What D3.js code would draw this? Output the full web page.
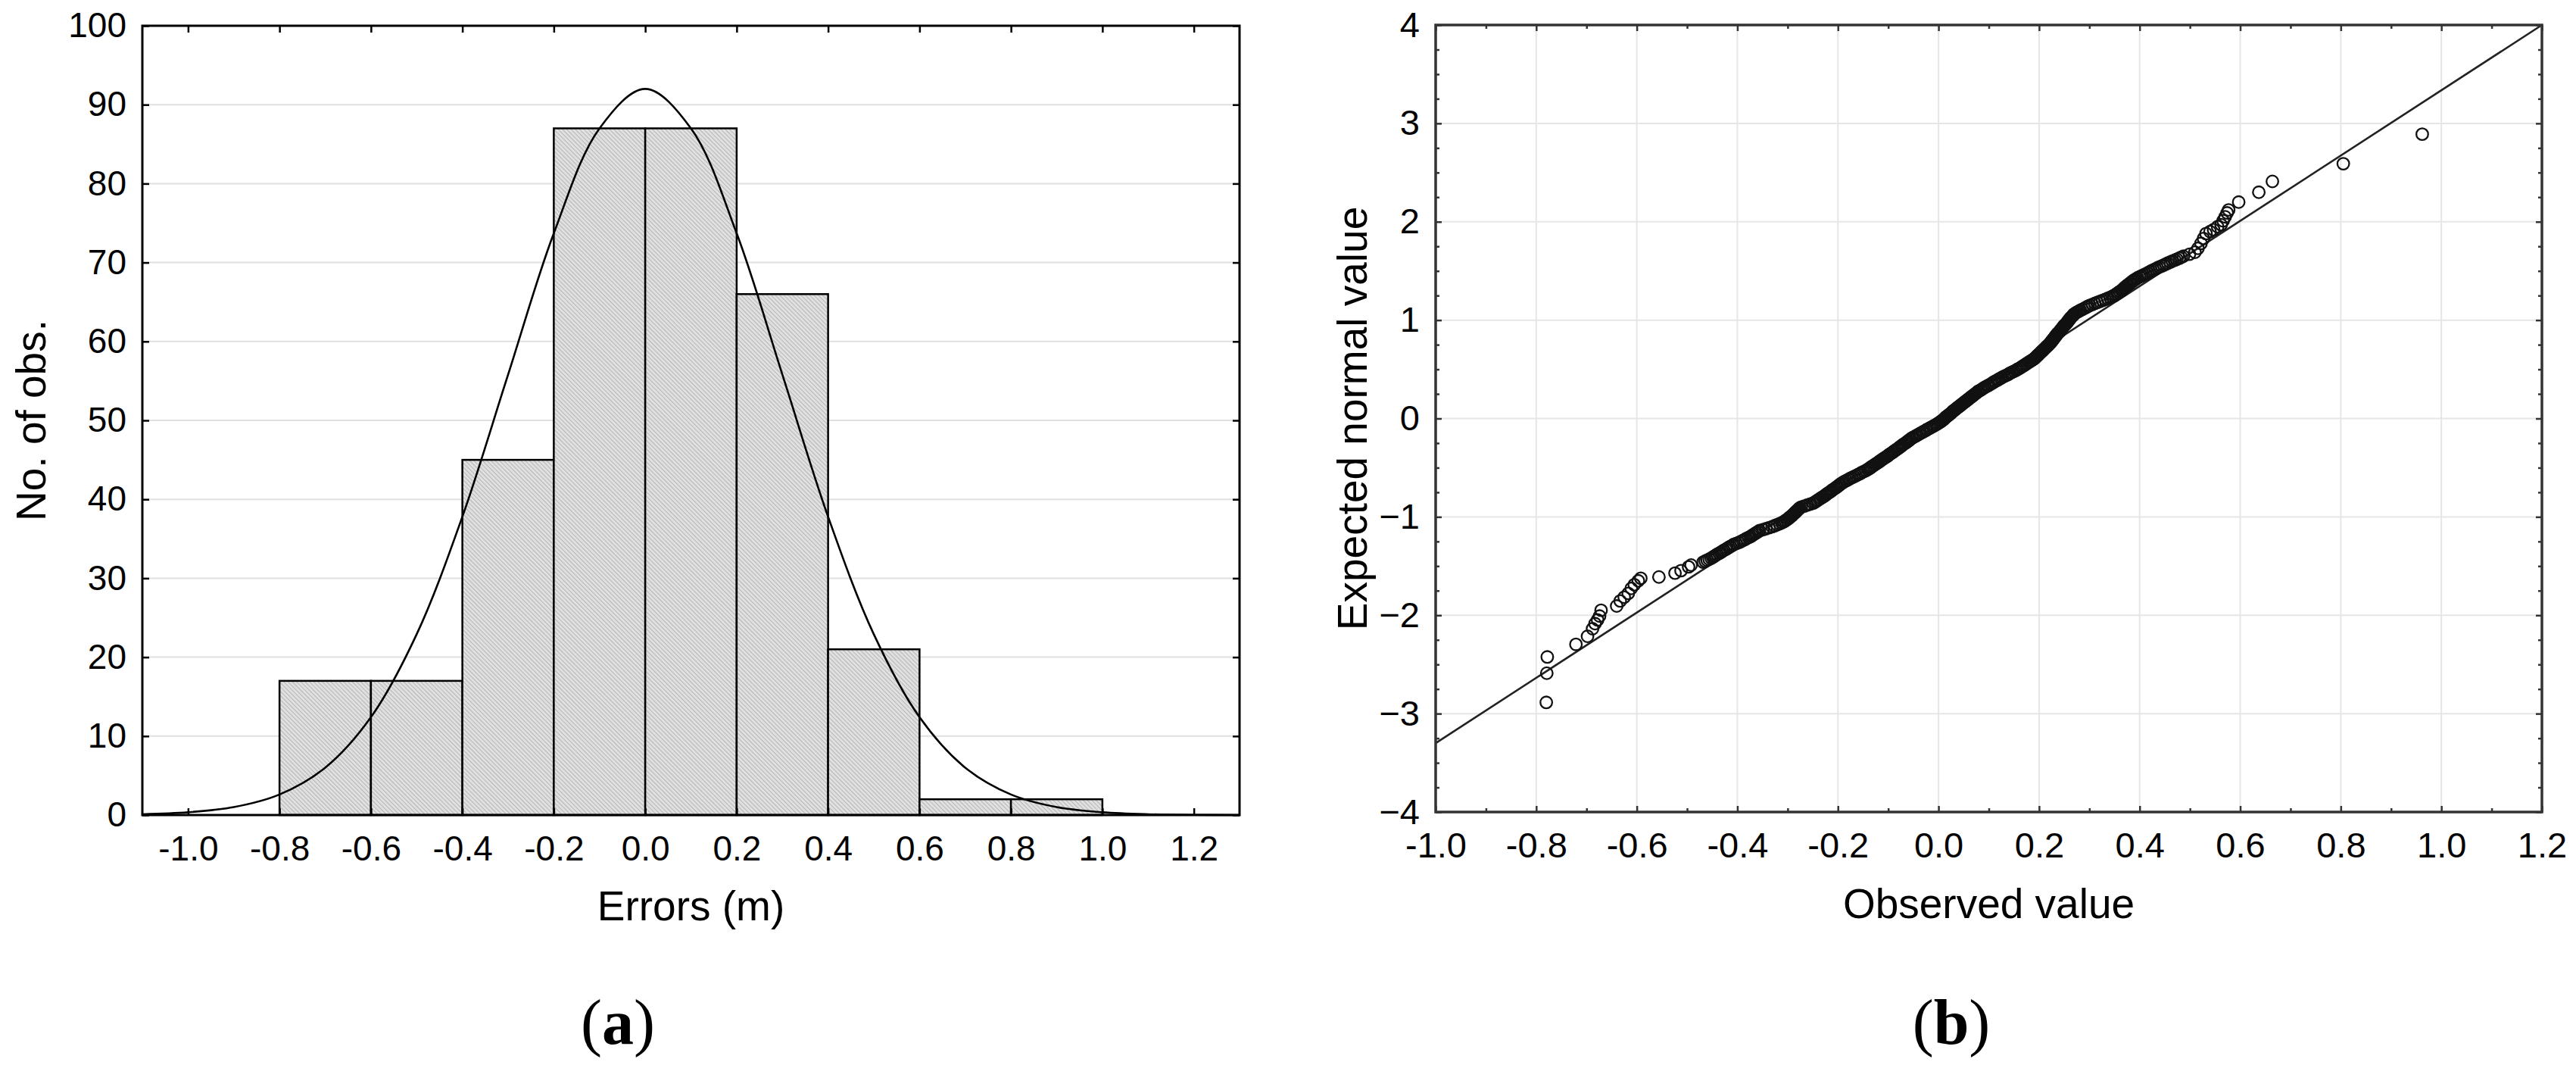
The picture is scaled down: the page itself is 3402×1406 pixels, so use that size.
<!DOCTYPE html>
<html><head><meta charset="utf-8">
<script src="https://cdn.jsdelivr.net/npm/d3@7"></script>
<style>
html,body{margin:0;padding:0;background:#fff;}
svg{display:block;}
text{font-family:"Liberation Sans",Arial,sans-serif;}
</style></head><body>
<svg id="chart" width="3402" height="1406"></svg>
<script>
// ---------- data: histogram (a) ----------
const binEdges  = [-0.8,-0.6,-0.4,-0.2,0.0,0.2,0.4,0.6,0.8,1.0];
const binCounts = [17,17,45,87,87,66,21,2,2];
const curveX = [-1.1,-1.0,-0.9,-0.8,-0.7,-0.6,-0.5,-0.4,-0.3,-0.2,-0.1,0.0,0.1,0.2,0.3,0.4,0.5,0.6,0.7,0.8,0.9,1.0,1.1,1.2,1.3];
const curveY = [0.1,0.35,1.0,2.6,6.0,12.4,22.9,37.8,55.8,73.7,87.0,92.0,87.0,73.7,55.8,37.8,22.9,12.4,6.0,2.6,1.0,0.35,0.1,0.03,0.0];
const histXTicks = [-1.0,-0.8,-0.6,-0.4,-0.2,0.0,0.2,0.4,0.6,0.8,1.0,1.2];
const histYTicks = [0,10,20,30,40,50,60,70,80,90,100];

// ---------- data: normal probability plot (b) ----------
const qqObserved = [
-0.780,-0.779,-0.778,-0.721,-0.698,-0.688,-0.683,-0.678,-0.674,-0.671,
-0.640,-0.633,-0.625,-0.617,-0.611,-0.605,-0.597,-0.592,-0.556,-0.524,-0.512,-0.497,-0.492,
-0.468,-0.464,-0.460,-0.456,-0.452,-0.449,-0.446,-0.443,-0.440,-0.436,
-0.433,-0.430,-0.427,-0.423,-0.420,-0.417,-0.414,-0.410,-0.407,-0.402,
-0.397,-0.393,-0.389,-0.385,-0.382,-0.378,-0.374,-0.371,-0.368,-0.365,
-0.362,-0.359,-0.356,-0.349,-0.343,-0.337,-0.331,-0.326,-0.321,-0.316,
-0.312,-0.308,-0.305,-0.302,-0.299,-0.297,-0.295,-0.292,-0.290,-0.288,
-0.286,-0.284,-0.282,-0.280,-0.278,-0.276,-0.273,-0.267,-0.261,-0.255,
-0.249,-0.246,-0.243,-0.240,-0.237,-0.234,-0.231,-0.228,-0.225,-0.223,
-0.220,-0.217,-0.214,-0.212,-0.209,-0.206,-0.203,-0.201,-0.198,-0.196,
-0.193,-0.190,-0.187,-0.183,-0.179,-0.176,-0.172,-0.168,-0.164,-0.160,
-0.156,-0.153,-0.149,-0.145,-0.141,-0.138,-0.135,-0.133,-0.130,-0.127,
-0.124,-0.121,-0.118,-0.116,-0.113,-0.110,-0.107,-0.104,-0.101,-0.099,
-0.096,-0.093,-0.090,-0.088,-0.085,-0.082,-0.079,-0.077,-0.074,-0.072,
-0.069,-0.066,-0.063,-0.061,-0.058,-0.056,-0.053,-0.050,-0.046,-0.043,
-0.039,-0.036,-0.032,-0.029,-0.025,-0.022,-0.018,-0.015,-0.011,-0.008,
-0.004,-0.001,0.002,0.005,0.007,0.010,0.012,0.014,0.016,0.019,
0.021,0.024,0.026,0.028,0.030,0.033,0.035,0.038,0.040,0.043,
0.045,0.048,0.050,0.053,0.055,0.058,0.060,0.063,0.065,0.068,
0.070,0.073,0.075,0.078,0.080,0.084,0.087,0.090,0.093,0.097,
0.100,0.104,0.107,0.110,0.113,0.117,0.120,0.124,0.127,0.131,
0.135,0.139,0.142,0.146,0.150,0.154,0.157,0.161,0.164,0.167,
0.170,0.173,0.176,0.179,0.182,0.185,0.188,0.191,0.193,0.195,
0.197,0.199,0.201,0.203,0.205,0.207,0.209,0.211,0.213,0.215,
0.217,0.219,0.221,0.223,0.224,0.226,0.227,0.229,0.230,0.232,
0.233,0.235,0.236,0.238,0.240,0.242,0.243,0.245,0.246,0.248,
0.249,0.251,0.253,0.255,0.256,0.258,0.259,0.261,0.262,0.264,
0.266,0.268,0.269,0.272,0.275,0.279,0.282,0.286,0.290,0.294,
0.297,0.301,0.306,0.311,0.316,0.321,0.326,0.331,0.336,0.341,
0.345,0.349,0.352,0.355,0.358,0.361,0.364,0.366,0.368,0.370,
0.372,0.375,0.377,0.380,0.382,0.385,0.387,0.390,0.393,0.396,
0.400,0.404,0.408,0.412,0.416,0.420,0.423,0.427,0.431,0.435,
0.439,0.444,0.448,0.452,0.456,0.461,0.465,0.470,0.474,0.479,
0.483,
0.487,0.499,0.510,0.516,0.522,0.527,0.532,0.540,0.547,0.555,0.562,0.566,0.570,0.574,0.577,0.597,0.637,0.664,0.805,0.962];
const qqExpected = [
-2.886,-2.589,-2.424,-2.296,-2.214,-2.137,-2.085,-2.047,-2.008,-1.949,
-1.906,-1.855,-1.816,-1.778,-1.727,-1.689,-1.650,-1.624,-1.611,-1.572,-1.547,-1.508,-1.490,
-1.46,-1.45,-1.44,-1.43,-1.42,-1.41,-1.40,-1.39,-1.38,-1.37,
-1.36,-1.35,-1.34,-1.33,-1.32,-1.31,-1.30,-1.29,-1.28,-1.27,
-1.26,-1.25,-1.24,-1.23,-1.22,-1.21,-1.20,-1.19,-1.18,-1.17,
-1.16,-1.15,-1.14,-1.13,-1.12,-1.11,-1.10,-1.09,-1.08,-1.07,
-1.06,-1.05,-1.04,-1.03,-1.02,-1.01,-1.00,-0.99,-0.98,-0.97,
-0.96,-0.95,-0.94,-0.93,-0.92,-0.91,-0.90,-0.89,-0.88,-0.87,
-0.86,-0.85,-0.84,-0.83,-0.82,-0.81,-0.80,-0.79,-0.78,-0.77,
-0.76,-0.75,-0.74,-0.73,-0.72,-0.71,-0.70,-0.69,-0.68,-0.67,
-0.66,-0.65,-0.64,-0.63,-0.62,-0.61,-0.60,-0.59,-0.58,-0.57,
-0.56,-0.55,-0.54,-0.53,-0.52,-0.51,-0.50,-0.49,-0.48,-0.47,
-0.46,-0.45,-0.44,-0.43,-0.42,-0.41,-0.40,-0.39,-0.38,-0.37,
-0.36,-0.35,-0.34,-0.33,-0.32,-0.31,-0.30,-0.29,-0.28,-0.27,
-0.26,-0.25,-0.24,-0.23,-0.22,-0.21,-0.20,-0.19,-0.18,-0.17,
-0.16,-0.15,-0.14,-0.13,-0.12,-0.11,-0.10,-0.09,-0.08,-0.07,
-0.06,-0.05,-0.04,-0.03,-0.02,-0.01,0.00,0.01,0.02,0.03,
0.04,0.05,0.06,0.07,0.08,0.09,0.10,0.11,0.12,0.13,
0.14,0.15,0.16,0.17,0.18,0.19,0.20,0.21,0.22,0.23,
0.24,0.25,0.26,0.27,0.28,0.29,0.30,0.31,0.32,0.33,
0.34,0.35,0.36,0.37,0.38,0.39,0.40,0.41,0.42,0.43,
0.44,0.45,0.46,0.47,0.48,0.49,0.50,0.51,0.52,0.53,
0.54,0.55,0.56,0.57,0.58,0.59,0.60,0.61,0.62,0.63,
0.64,0.65,0.66,0.67,0.68,0.69,0.70,0.71,0.72,0.73,
0.74,0.75,0.76,0.77,0.78,0.79,0.80,0.81,0.82,0.83,
0.84,0.85,0.86,0.87,0.88,0.89,0.90,0.91,0.92,0.93,
0.94,0.95,0.96,0.97,0.98,0.99,1.00,1.01,1.02,1.03,
1.04,1.05,1.06,1.07,1.08,1.09,1.10,1.11,1.12,1.13,
1.14,1.15,1.16,1.17,1.18,1.19,1.20,1.21,1.22,1.23,
1.24,1.25,1.26,1.27,1.28,1.29,1.30,1.31,1.32,1.33,
1.34,1.35,1.36,1.37,1.38,1.39,1.40,1.41,1.42,1.43,
1.44,1.45,1.46,1.47,1.48,1.49,1.50,1.51,1.52,1.53,
1.54,1.55,1.56,1.57,1.58,1.59,1.60,1.61,1.62,1.63,
1.64,
1.65,1.67,1.69,1.73,1.78,1.83,1.88,1.90,1.92,1.95,1.97,2.01,2.05,2.09,2.12,2.20,2.30,2.41,2.59,2.89];
const qqLineX = [-1.0, 1.2];
const qqLineY = [-3.30, 4.00];
const qqXTicks = [-1.0,-0.8,-0.6,-0.4,-0.2,0.0,0.2,0.4,0.6,0.8,1.0,1.2];
const qqXMinor = [-0.9,-0.7,-0.5,-0.3,-0.1,0.1,0.3,0.5,0.7,0.9,1.1];
const qqYTicks = [-4,-3,-2,-1,0,1,2,3,4];
const qqYMinor = [-3.75,-3.5,-3.25,-2.75,-2.5,-2.25,-1.75,-1.5,-1.25,-0.75,-0.5,-0.25,0.25,0.5,0.75,1.25,1.5,1.75,2.25,2.5,2.75,3.25,3.5,3.75];

// ---------- drawing ----------
const svg = d3.select('#chart');
const defs = svg.append('defs');
const pat = defs.append('pattern').attr('id','hatch').attr('width',4).attr('height',4)
  .attr('patternUnits','userSpaceOnUse').attr('patternTransform','rotate(-45)');
pat.append('rect').attr('width',4).attr('height',4).attr('fill','#e0e0e0');
pat.append('line').attr('x1',0).attr('y1',0).attr('x2',0).attr('y2',4).attr('stroke','#a2a2a2').attr('stroke-width',1.4);

const fmt1 = d => (+d).toFixed(1);
function styleAxis(g, color, width, fs){
  g.select('.domain').remove();
  g.selectAll('.tick line').attr('stroke',color).attr('stroke-width',width);
  g.selectAll('.tick text').attr('fill','#000').style('font-size',fs+'px')
    .style('font-family','"Liberation Sans",Arial,sans-serif');
}

// ===== Panel (a) =====
const A = {l:188, r:1637, t:34, b:1076};
const xH = d3.scaleLinear().domain([-1.1,1.3]).range([A.l,A.r]);
const yH = d3.scaleLinear().domain([0,100]).range([A.b,A.t]);
const pa = svg.append('g');

pa.append('g').selectAll('line').data(histYTicks.filter(v=>v>0&&v<100)).join('line')
  .attr('x1',A.l).attr('x2',A.r).attr('y1',d=>yH(d)).attr('y2',d=>yH(d))
  .attr('stroke','#e0e0e0').attr('stroke-width',2);

pa.append('g').selectAll('rect').data(binCounts).join('rect')
  .attr('x',(d,i)=>xH(binEdges[i]))
  .attr('width',(d,i)=>xH(binEdges[i+1])-xH(binEdges[i]))
  .attr('y',d=>yH(d)).attr('height',d=>yH(0)-yH(d))
  .attr('fill','url(#hatch)').attr('stroke','#000').attr('stroke-width',2.5);

const curvePts = curveX.map((x,i)=>[x,curveY[i]]);
pa.append('path').datum(curvePts)
  .attr('d', d3.line().x(d=>xH(d[0])).y(d=>yH(d[1])).curve(d3.curveCatmullRom.alpha(0.5)))
  .attr('fill','none').attr('stroke','#000').attr('stroke-width',2.6);

let g;
g = pa.append('g').attr('transform',`translate(${A.l},0)`)
  .call(d3.axisLeft(yH).tickValues(histYTicks).tickSize(-9).tickPadding(21).tickFormat(d3.format('d')));
styleAxis(g,'#000',2.5,46);
g = pa.append('g').attr('transform',`translate(${A.r},0)`)
  .call(d3.axisRight(yH).tickValues(histYTicks).tickSize(-9).tickFormat(''));
styleAxis(g,'#000',2.5,46);
g = pa.append('g').attr('transform',`translate(0,${A.b})`)
  .call(d3.axisBottom(xH).tickValues(histXTicks).tickSize(-9).tickPadding(27).tickFormat(fmt1));
styleAxis(g,'#000',2.5,46);
g = pa.append('g').attr('transform',`translate(0,${A.t})`)
  .call(d3.axisTop(xH).tickValues(histXTicks).tickSize(-9).tickFormat(''));
styleAxis(g,'#000',2.5,46);

pa.append('rect').attr('x',A.l).attr('y',A.t).attr('width',A.r-A.l).attr('height',A.b-A.t)
  .attr('fill','none').attr('stroke','#000').attr('stroke-width',3);

pa.append('text').attr('transform',`translate(60,${(A.t+A.b)/2}) rotate(-90)`)
  .attr('text-anchor','middle').style('font-size','55px').text('No. of obs.');
pa.append('text').attr('x',(A.l+A.r)/2).attr('y',1215)
  .attr('text-anchor','middle').style('font-size','55px').text('Errors (m)');
const la = pa.append('text').attr('x',816).attr('y',1378).attr('text-anchor','middle')
  .style('font-family','"Liberation Serif","Times New Roman",serif').style('font-size','84px');
la.append('tspan').text('(');
la.append('tspan').style('font-weight','bold').text('a');
la.append('tspan').text(')');

// ===== Panel (b) =====
const B = {l:1896, r:3357, t:33, b:1072};
const xQ = d3.scaleLinear().domain([-1.0,1.2]).range([B.l,B.r]);
const yQ = d3.scaleLinear().domain([-4,4]).range([B.b,B.t]);
const pb = svg.append('g');

pb.append('g').selectAll('line').data(qqXTicks.filter(v=>v>-1&&v<1.2)).join('line')
  .attr('x1',d=>xQ(d)).attr('x2',d=>xQ(d)).attr('y1',B.t).attr('y2',B.b)
  .attr('stroke','#e6e6e6').attr('stroke-width',2);
pb.append('g').selectAll('line').data(qqYTicks.filter(v=>v>-4&&v<4)).join('line')
  .attr('x1',B.l).attr('x2',B.r).attr('y1',d=>yQ(d)).attr('y2',d=>yQ(d))
  .attr('stroke','#e6e6e6').attr('stroke-width',2);

pb.append('line').attr('x1',xQ(qqLineX[0])).attr('y1',yQ(qqLineY[0]))
  .attr('x2',xQ(qqLineX[1])).attr('y2',yQ(qqLineY[1]))
  .attr('stroke','#222').attr('stroke-width',2.6);

const qqPts = qqObserved.map((x,i)=>[x,qqExpected[i]]);
pb.append('g').selectAll('circle').data(qqPts).join('circle')
  .attr('cx',d=>xQ(d[0])).attr('cy',d=>yQ(d[1])).attr('r',7.8)
  .attr('fill','none').attr('stroke','#111').attr('stroke-width',2.3);

const axCol = '#333';
g = pb.append('g').attr('transform',`translate(${B.l},0)`)
  .call(d3.axisLeft(yQ).tickValues(qqYTicks).tickSize(-8).tickPadding(21).tickFormat(d3.format('d')));
styleAxis(g,axCol,2.5,47);
g = pb.append('g').attr('transform',`translate(${B.l},0)`)
  .call(d3.axisLeft(yQ).tickValues(qqYMinor).tickSize(-5).tickFormat(''));
styleAxis(g,axCol,2.5,47);
g = pb.append('g').attr('transform',`translate(${B.r},0)`)
  .call(d3.axisRight(yQ).tickValues(qqYTicks).tickSize(-8).tickFormat(''));
styleAxis(g,axCol,2.5,47);
g = pb.append('g').attr('transform',`translate(${B.r},0)`)
  .call(d3.axisRight(yQ).tickValues(qqYMinor).tickSize(-5).tickFormat(''));
styleAxis(g,axCol,2.5,47);
g = pb.append('g').attr('transform',`translate(0,${B.b})`)
  .call(d3.axisBottom(xQ).tickValues(qqXTicks).tickSize(-8).tickPadding(27).tickFormat(fmt1));
styleAxis(g,axCol,2.5,47);
g = pb.append('g').attr('transform',`translate(0,${B.b})`)
  .call(d3.axisBottom(xQ).tickValues(qqXMinor).tickSize(-5).tickFormat(''));
styleAxis(g,axCol,2.5,47);
g = pb.append('g').attr('transform',`translate(0,${B.t})`)
  .call(d3.axisTop(xQ).tickValues(qqXTicks).tickSize(-8).tickFormat(''));
styleAxis(g,axCol,2.5,47);
g = pb.append('g').attr('transform',`translate(0,${B.t})`)
  .call(d3.axisTop(xQ).tickValues(qqXMinor).tickSize(-5).tickFormat(''));
styleAxis(g,axCol,2.5,47);

pb.append('rect').attr('x',B.l).attr('y',B.t).attr('width',B.r-B.l).attr('height',B.b-B.t)
  .attr('fill','none').attr('stroke',axCol).attr('stroke-width',3.5);

pb.append('text').attr('transform',`translate(1805,${(B.t+B.b)/2}) rotate(-90)`)
  .attr('text-anchor','middle').style('font-size','55px').text('Expected normal value');
pb.append('text').attr('x',(B.l+B.r)/2).attr('y',1212)
  .attr('text-anchor','middle').style('font-size','55px').text('Observed value');
const lb = pb.append('text').attr('x',2577).attr('y',1378).attr('text-anchor','middle')
  .style('font-family','"Liberation Serif","Times New Roman",serif').style('font-size','84px');
lb.append('tspan').text('(');
lb.append('tspan').style('font-weight','bold').text('b');
lb.append('tspan').text(')');
</script>
</body></html>
